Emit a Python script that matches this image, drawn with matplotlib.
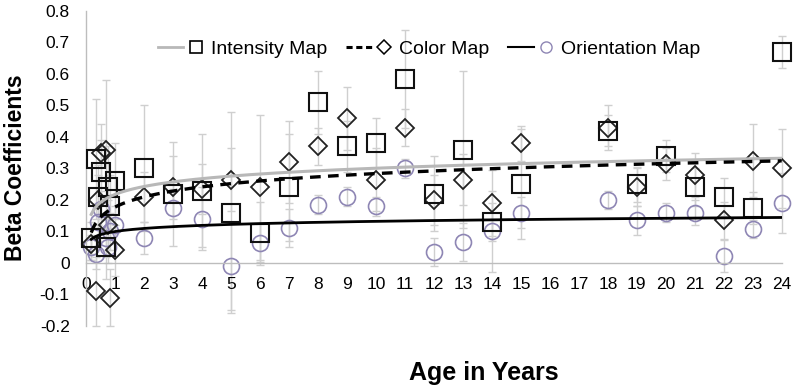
import matplotlib
matplotlib.use('Agg')
import matplotlib.pyplot as plt
import numpy as np
from matplotlib.lines import Line2D
from matplotlib.legend_handler import HandlerTuple

plt.rcParams['font.family'] = ['Liberation Sans', 'DejaVu Sans']

# ---------------- data ----------------
ages = [0.17, 0.33, 0.42, 0.5, 0.67, 0.75, 0.83, 1.0,
        2, 3, 4, 5, 6, 7, 8, 9, 10, 11, 12, 13, 14, 15, 18, 19, 20, 21, 22, 23, 24]

intensity = [0.08, 0.33, 0.21, 0.29, 0.05, 0.24, 0.18, 0.26,
             0.30, 0.22, 0.23, 0.16, 0.095, 0.24, 0.51, 0.37, 0.38, 0.585,
             0.22, 0.36, 0.13, 0.25, 0.42, 0.25, 0.34, 0.24, 0.21, 0.175, 0.67]
intensity_err = [0.05, 0.19, 0.10, 0.10, 0.10, 0.13, 0.10, 0.12,
                 0.20, 0.165, 0.18, 0.32, 0.10, 0.17, 0.10, 0.08, 0.08, 0.155,
                 0.12, 0.25, 0.06, 0.175, 0.05, 0.055, 0.05, 0.06, 0.06, 0.05, 0.05]

color = [0.06, -0.09, 0.20, 0.35, 0.36, 0.12, -0.11, 0.04,
         0.21, 0.24, 0.235, 0.265, 0.24, 0.32, 0.37, 0.46, 0.265, 0.43,
         0.20, 0.265, 0.19, 0.38, 0.43, 0.24, 0.315, 0.28, 0.135, 0.325, 0.30]
color_err = [0.05, 0.11, 0.08, 0.09, 0.22, 0.08, 0.09, 0.08,
             0.08, 0.10, 0.08, 0.10, 0.23, 0.13, 0.06, 0.10, 0.10, 0.06,
             0.08, 0.08, 0.105, 0.055, 0.07, 0.06, 0.05, 0.07, 0.06, 0.115, 0.125]

orientation = [0.05, 0.03, 0.13, 0.17, 0.08, 0.05, 0.10, 0.12,
               0.08, 0.175, 0.14, -0.01, 0.063, 0.11, 0.185, 0.21, 0.18, 0.30,
               0.035, 0.066, 0.10, 0.16, 0.20, 0.135, 0.16, 0.16, 0.022, 0.108, 0.19]
orientation_err = [0.04, 0.05, 0.06, 0.06, 0.06, 0.05, 0.06, 0.06,
                   0.05, 0.06, 0.10, 0.14, 0.06, 0.06, 0.03, 0.03, 0.03, 0.03,
                   0.045, 0.06, 0.13, 0.05, 0.03, 0.045, 0.03, 0.04, 0.05, 0.03, 0.095]

# logarithmic trendline coefficients (y = a + b*ln(age))
intensity_trend = (0.218, 0.036)
color_trend = (0.178, 0.046)
orientation_trend = (0.100, 0.014)
trend_start = 0.17

x_ticks = list(range(0, 25))
y_ticks = [-0.2, -0.1, 0, 0.1, 0.2, 0.3, 0.4, 0.5, 0.6, 0.7, 0.8]
y_tick_labels = ['-0.2', '-0.1', '0', '0.1', '0.2', '0.3', '0.4', '0.5', '0.6', '0.7', '0.8']

series_names = ['Intensity Map', 'Color Map', 'Orientation Map']

# ---------------- figure ----------------
fig = plt.figure(figsize=(7.97, 3.92), dpi=100)
ax = fig.add_axes([0.1083, 0.1684, 0.8725, 0.8036])

ages_a = np.array(ages)
err_color = '#cfcfcf'
for vals, errs in [(intensity, intensity_err), (color, color_err), (orientation, orientation_err)]:
    ax.errorbar(ages_a, vals, yerr=errs, fmt='none', ecolor=err_color,
                elinewidth=1.0, capsize=3, capthick=1.0, zorder=1, clip_on=False)

circ_col = '#8e86b4'
ax.plot(ages_a, orientation, linestyle='none', marker='o', markersize=11.5,
        markerfacecolor='none', markeredgecolor=circ_col, markeredgewidth=1.2,
        zorder=2, clip_on=False)
ax.plot(ages_a, color, linestyle='none', marker='D', markersize=9.5,
        markerfacecolor='none', markeredgecolor='#222222', markeredgewidth=1.3,
        zorder=3, clip_on=False)
ax.plot(ages_a, intensity, linestyle='none', marker='s', markersize=12.5,
        markerfacecolor='none', markeredgecolor='#111111', markeredgewidth=1.5,
        zorder=3, clip_on=False)

# logarithmic trendlines
xs = np.linspace(trend_start, ages_a.max(), 300)
fit_styles = [
    (intensity_trend, dict(color='#b8b8b8', lw=2.2, ls='-')),
    (color_trend, dict(color='black', lw=2.4, ls=(0, (3.2, 2.2)))),
    (orientation_trend, dict(color='black', lw=2.0, ls='-')),
]
for (a, b), st in fit_styles:
    ax.plot(xs, a + b * np.log(xs), zorder=4, **st)

# axes styling
ax.set_xlim(0, 24)
ax.set_ylim(-0.2, 0.8)
ax.set_xticks(x_ticks)
ax.set_xticklabels([str(t) for t in x_ticks])
ax.set_yticks(y_ticks)
ax.set_yticklabels(y_tick_labels)
for s in ['top', 'right']:
    ax.spines[s].set_visible(False)
ax.spines['left'].set_color('#bdbdbd')
ax.spines['left'].set_linewidth(1.0)
ax.spines['bottom'].set_position(('data', 0))
ax.spines['bottom'].set_color('#bdbdbd')
ax.spines['bottom'].set_linewidth(1.0)
ax.tick_params(axis='both', length=0, labelsize=12.5, colors='black')
ax.tick_params(axis='x', pad=10)
ax.tick_params(axis='y', pad=12)

fig.text(0.019, 0.571, 'Beta Coefficients', rotation=90, ha='center', va='center',
         fontsize=16.5, fontweight='bold')
fig.text(0.607, 0.048, 'Age in Years', ha='center', va='center',
         fontsize=18, fontweight='bold')

# legend
h_int = (Line2D([], [], color='#b8b8b8', lw=2.0),
         Line2D([], [], ls='none', marker='s', markersize=9, markerfacecolor='none',
                markeredgecolor='black', markeredgewidth=1.2))
h_col = (Line2D([], [], color='black', lw=2.2, ls=(0, (2, 1.2))),
         Line2D([], [], ls='none', marker='D', markersize=7, markerfacecolor='none',
                markeredgecolor='black', markeredgewidth=1.1))
h_ori = (Line2D([], [], color='black', lw=1.5),
         Line2D([], [], ls='none', marker='o', markersize=8, markerfacecolor='none',
                markeredgecolor=circ_col, markeredgewidth=1.0))
leg = ax.legend([h_int, h_col, h_ori], series_names, ncol=3, frameon=False,
                loc='center', bbox_to_anchor=(0.493, 0.878),
                handler_map={tuple: HandlerTuple(ndivide=None, pad=0.0)},
                fontsize=14, handlelength=2.6, handletextpad=0.1, columnspacing=1.0)

fig.savefig('out.png', dpi=100)
